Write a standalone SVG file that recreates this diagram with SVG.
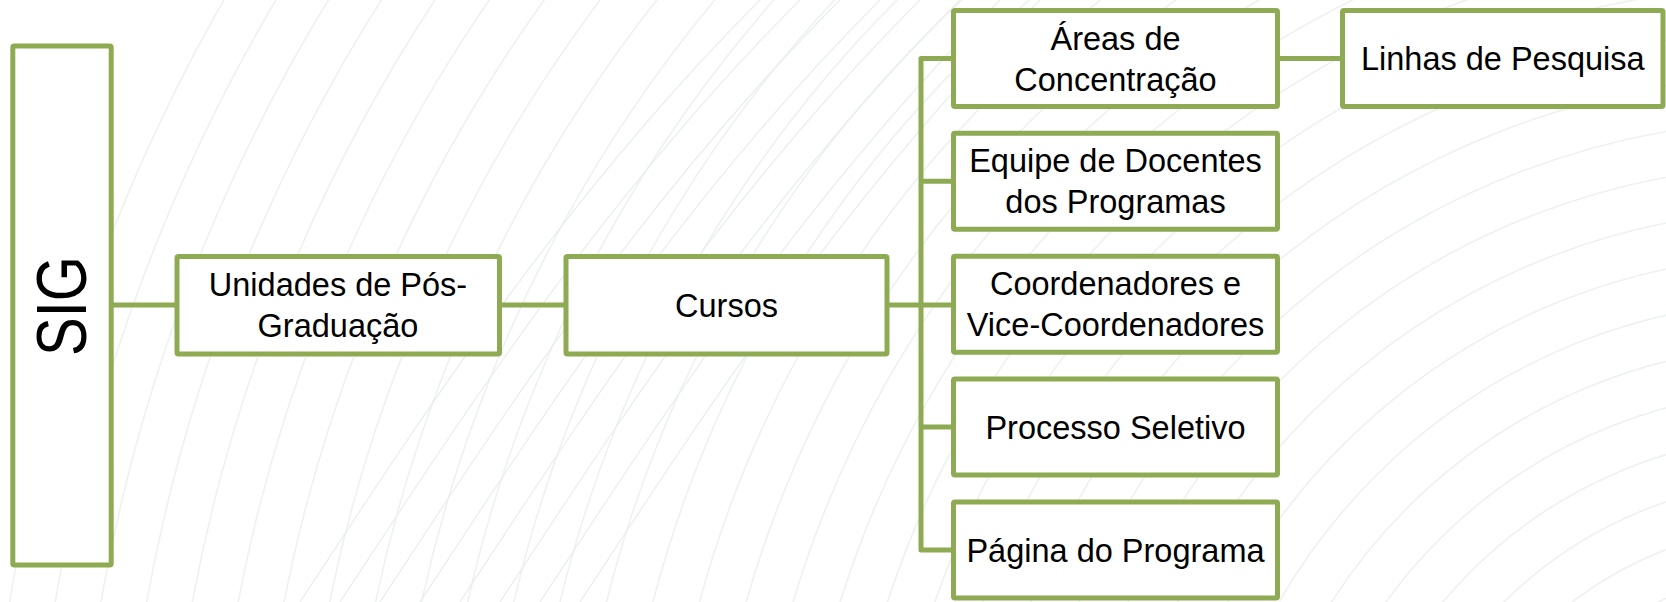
<svg xmlns="http://www.w3.org/2000/svg" width="1666" height="602" viewBox="0 0 1666 602">
  <defs>
    <style>
      .box { fill: #ffffff; stroke: #8eab53; stroke-width: 5; }
      .conn { fill: none; stroke: #8eab53; stroke-width: 5; stroke-linejoin: round; }
      .lbl { font-family: "Liberation Sans", Arial, sans-serif; font-size: 32.5px; fill: #000000; text-anchor: middle; }
      .bg { fill: none; stroke: #edf2ef; stroke-width: 1.6; }
      .bg2 { fill: none; stroke: #e7efea; stroke-width: 1.2; }
    </style>
  </defs>
  <rect width="1666" height="602" fill="#ffffff"/>
  <g id="background">
    <circle class="bg" cx="1800" cy="900" r="330"/>
    <circle class="bg" cx="1800" cy="900" r="375"/>
    <circle class="bg" cx="1800" cy="900" r="420"/>
    <circle class="bg" cx="1800" cy="900" r="465"/>
    <circle class="bg" cx="1800" cy="900" r="510"/>
    <circle class="bg" cx="1800" cy="900" r="555"/>
    <circle class="bg" cx="1800" cy="900" r="600"/>
    <circle class="bg" cx="1800" cy="900" r="645"/>
    <circle class="bg" cx="1800" cy="900" r="690"/>
    <circle class="bg" cx="1800" cy="900" r="735"/>
    <circle class="bg" cx="1800" cy="900" r="780"/>
    <circle class="bg" cx="1800" cy="900" r="825"/>
    <circle class="bg" cx="1800" cy="900" r="870"/>
    <circle class="bg" cx="1800" cy="900" r="915"/>
    <circle class="bg" cx="1800" cy="900" r="960"/>
    <circle class="bg" cx="1800" cy="900" r="1005"/>
    <circle class="bg" cx="1800" cy="900" r="1050"/>
    <circle class="bg" cx="1800" cy="900" r="1095"/>
    <circle class="bg" cx="1800" cy="900" r="1140"/>
    <circle class="bg" cx="1800" cy="900" r="1185"/>
    <circle class="bg" cx="1800" cy="900" r="1230"/>
    <circle class="bg" cx="1800" cy="900" r="1275"/>
    <circle class="bg" cx="1800" cy="900" r="1320"/>
    <circle class="bg" cx="1800" cy="900" r="1365"/>
    <circle class="bg" cx="1800" cy="900" r="1410"/>
    <circle class="bg" cx="1800" cy="900" r="1455"/>
    <circle class="bg" cx="1800" cy="900" r="1500"/>
    <circle class="bg" cx="1800" cy="900" r="1545"/>
    <circle class="bg" cx="1800" cy="900" r="1590"/>
    <circle class="bg" cx="1800" cy="900" r="1635"/>
    <circle class="bg" cx="1800" cy="900" r="1680"/>
    <circle class="bg" cx="1800" cy="900" r="1725"/>
    <circle class="bg" cx="1800" cy="900" r="1770"/>
    <circle class="bg" cx="1800" cy="900" r="1815"/>
    <path class="bg2" d="M300 602 C 420 420, 560 200, 760 0"/>
    <path class="bg2" d="M340 602 C 460 420, 600 200, 800 0"/>
    <path class="bg2" d="M380 602 C 500 420, 640 200, 840 0"/>
    <path class="bg2" d="M420 602 C 540 420, 680 200, 880 0"/>
    <path class="bg2" d="M460 602 C 580 420, 720 200, 920 0"/>
    <path class="bg2" d="M500 602 C 620 420, 760 200, 960 0"/>
    <path class="bg2" d="M540 602 C 660 420, 800 200, 1000 0"/>
    <path class="bg2" d="M580 602 C 700 420, 840 200, 1040 0"/>
  </g>

  <g id="connectors">
    <line class="conn" x1="111" y1="305" x2="177" y2="305"/>
    <line class="conn" x1="499.5" y1="305" x2="566" y2="305"/>
    <line class="conn" x1="887" y1="305" x2="953.5" y2="305"/>
    <path class="conn" d="M953.5 58.4 H921 V550 H953.5"/>
    <line class="conn" x1="921" y1="181.3" x2="953.5" y2="181.3"/>
    <line class="conn" x1="921" y1="427.1" x2="953.5" y2="427.1"/>
    <line class="conn" x1="1277.5" y1="58.4" x2="1342.5" y2="58.4"/>
  </g>

  <g id="node-sig">
    <rect class="box" x="12.8" y="46" width="98.4" height="519" rx="1.5"/>
    <text class="lbl" transform="translate(86,306) rotate(-90)" x="0" y="0" style="font-size:70px" textLength="100" lengthAdjust="spacingAndGlyphs">SIG</text>
  </g>

  <g id="node-unidades">
    <rect class="box" x="177" y="256.5" width="322.5" height="97.5" rx="1.5"/>
    <text class="lbl" x="338" y="296">Unidades de Pós-</text>
    <text class="lbl" x="338" y="337">Graduação</text>
  </g>

  <g id="node-cursos">
    <rect class="box" x="566" y="256.5" width="321" height="97.5" rx="1.5"/>
    <text class="lbl" x="726.5" y="316.5">Cursos</text>
  </g>

  <g id="node-areas">
    <rect class="box" x="953.5" y="10.4" width="324" height="96" rx="1.5"/>
    <text class="lbl" x="1115.5" y="49.5">Áreas de</text>
    <text class="lbl" x="1115.5" y="90.5">Concentração</text>
  </g>

  <g id="node-linhas">
    <rect class="box" x="1342.5" y="10.4" width="320.5" height="96" rx="1.5"/>
    <text class="lbl" x="1502.8" y="69.8">Linhas de Pesquisa</text>
  </g>

  <g id="node-equipe">
    <rect class="box" x="953.5" y="133.3" width="324" height="96" rx="1.5"/>
    <text class="lbl" x="1115.5" y="172.3">Equipe de Docentes</text>
    <text class="lbl" x="1115.5" y="213.3">dos Programas</text>
  </g>

  <g id="node-coordenadores">
    <rect class="box" x="953.5" y="256.2" width="324" height="96" rx="1.5"/>
    <text class="lbl" x="1115.5" y="295.2">Coordenadores e</text>
    <text class="lbl" x="1115.5" y="336.2">Vice-Coordenadores</text>
  </g>

  <g id="node-processo">
    <rect class="box" x="953.5" y="379.1" width="324" height="96" rx="1.5"/>
    <text class="lbl" x="1115.5" y="438.6">Processo Seletivo</text>
  </g>

  <g id="node-pagina">
    <rect class="box" x="953.5" y="502" width="324" height="96" rx="1.5"/>
    <text class="lbl" x="1115.5" y="561.5">Página do Programa</text>
  </g>
</svg>
